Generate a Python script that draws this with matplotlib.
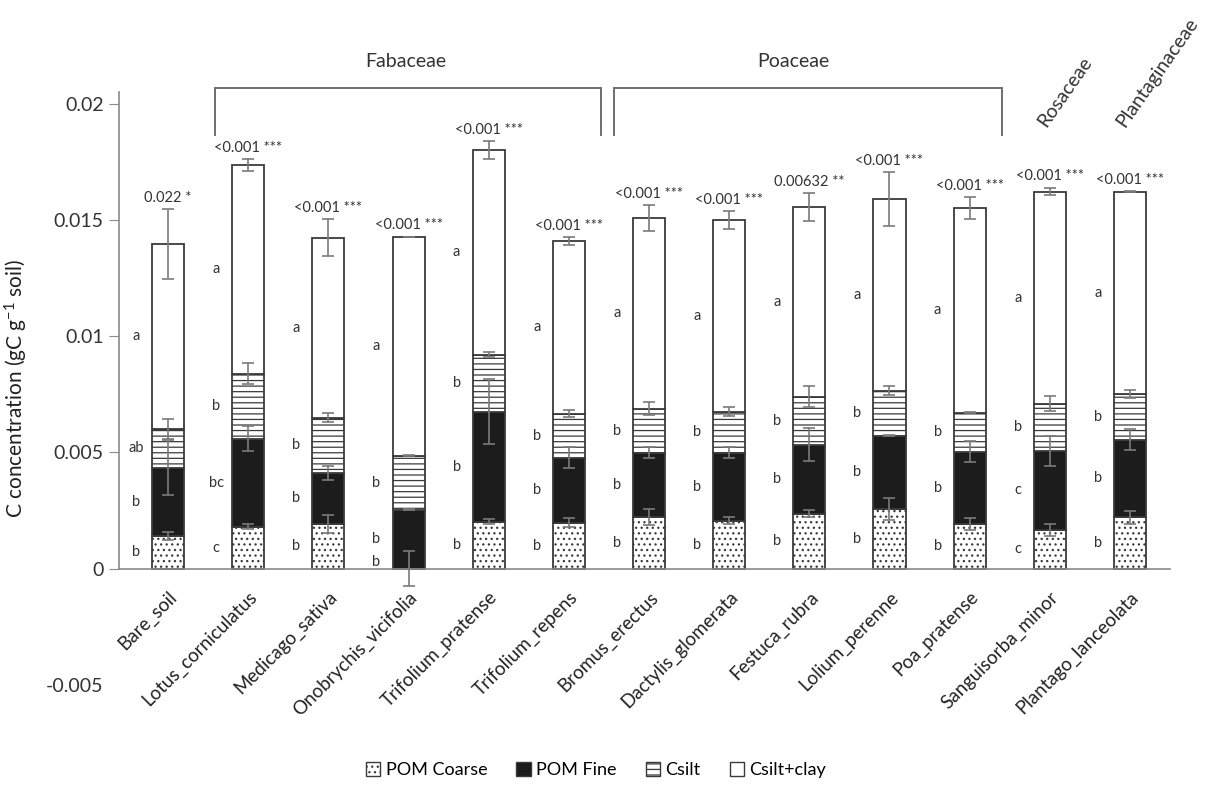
import numpy as np
import matplotlib
matplotlib.use("Agg")
import matplotlib.pyplot as plt
from matplotlib.patches import Patch

plt.rcParams['font.family'] = ['Lato', 'DejaVu Sans']
plt.rcParams['mathtext.default'] = 'regular'
plt.rcParams['hatch.linewidth'] = 0.9

categories = ["Bare_soil", "Lotus_corniculatus", "Medicago_sativa", "Onobrychis_vicifolia",
              "Trifolium_pratense", "Trifolium_repens", "Bromus_erectus", "Dactylis_glomerata",
              "Festuca_rubra", "Lolium_perenne", "Poa_pratense", "Sanguisorba_minor",
              "Plantago_lanceolata"]

fractions = ["POM Coarse", "POM Fine", "Csilt", "Csilt+clay"]

# carbon per fraction (gC g-1 soil), stacked from the bottom
pom_coarse = [0.00142, 0.00181, 0.00193, 0.00000, 0.00202, 0.00198, 0.00224,
              0.00206, 0.00236, 0.00258, 0.00192, 0.00166, 0.00221]
pom_fine = [0.00292, 0.00378, 0.00220, 0.00254, 0.00473, 0.00279, 0.00275,
            0.00293, 0.00297, 0.00314, 0.00312, 0.00341, 0.00334]
csilt = [0.00168, 0.00279, 0.00236, 0.00232, 0.00245, 0.00189, 0.00189,
         0.00176, 0.00207, 0.00193, 0.00167, 0.00203, 0.00196]
csilt_clay = [0.00795, 0.00899, 0.00774, 0.00941, 0.00881, 0.00744, 0.00821,
              0.00825, 0.00816, 0.00825, 0.00879, 0.00912, 0.00871]

# standard errors, one per fraction
err_coarse = [0.00017, 0.00010, 0.00040, 0.00075, 0.00010, 0.00020, 0.00034,
              0.00015, 0.00015, 0.00047, 0.00025, 0.00027, 0.00029]
err_fine = [0.00118, 0.00054, 0.00030, 0.00003, 0.00140, 0.00045, 0.00024,
            0.00024, 0.00070, 0.00002, 0.00045, 0.00065, 0.00046]
err_csilt = [0.00043, 0.00045, 0.00020, 0.00002, 0.00010, 0.00015, 0.00028,
             0.00020, 0.00045, 0.00020, 0.00003, 0.00033, 0.00016]
err_clay = [0.00150, 0.00026, 0.00080, 0.00001, 0.00037, 0.00017, 0.00056,
            0.00039, 0.00060, 0.00116, 0.00047, 0.00017, 0.00003]

# ANOVA p-values per plant
p_labels = ["0.022 *", "<0.001 ***", "<0.001 ***", "<0.001 ***", "<0.001 ***",
            "<0.001 ***", "<0.001 ***", "<0.001 ***", "0.00632 **", "<0.001 ***",
            "<0.001 ***", "<0.001 ***", "<0.001 ***"]

# post-hoc group letters (coarse, fine, silt, silt+clay)
letters_coarse = ["b", "c", "b", "b", "b", "b", "b", "b", "b", "b", "b", "c", "b"]
letters_fine = ["b", "bc", "b", "b", "b", "b", "b", "b", "b", "b", "b", "c", "b"]
letters_csilt = ["ab", "b", "b", "b", "b", "b", "b", "b", "b", "b", "b", "b", "b"]
letters_clay = ["a", "a", "a", "a", "a", "a", "a", "a", "a", "a", "a", "a", "a"]

families = ["Fabaceae", "Poaceae"]
family_spans = [(0.59, 5.4), (5.56, 10.4)]
family_label_x = [2.96, 7.8]
single_families = ["Rosaceae", "Plantaginaceae"]
single_family_x = [10.95, 11.93]

yticks = [-0.005, 0, 0.005, 0.01, 0.015, 0.02]
ytick_labels = ["-0.005", "0", "0.005", "0.01", "0.015", "0.02"]

fig = plt.figure(figsize=(12.24, 7.85), dpi=100)
ax = fig.add_axes([0.0972, 0.1274, 0.8587, 0.7554])

x = np.arange(len(categories))
width = 0.4
edge = "#3a3a3a"

series = [pom_coarse, pom_fine, csilt, csilt_clay]
errors = [err_coarse, err_fine, err_csilt, err_clay]
letters = [letters_coarse, letters_fine, letters_csilt, letters_clay]
faces = ["white", "#1c1c1c", "white", "white"]
hatches = ["...", None, "---", None]

bottom = np.zeros(len(categories))
tops = []
for vals, fc, h in zip(series, faces, hatches):
    vals = np.array(vals)
    ax.bar(x, vals, width, bottom=bottom, color=fc, edgecolor=edge,
           linewidth=1.3, hatch=h, zorder=2)
    tops.append(bottom + vals)
    bottom = bottom + vals

# error bars at the top of each fraction
prev = np.zeros(len(categories))
for top, err, lab in zip(tops, errors, letters):
    ax.errorbar(x, top, yerr=err, fmt="none", ecolor="#7a7a7a",
                elinewidth=1.2, capsize=4, capthick=1.2, zorder=3)
    mid = np.maximum((prev + top) / 2, 0.0003)
    for xi, yi, t in zip(x, mid, lab):
        ax.text(xi - 0.4, yi, t, ha="center", va="center", fontsize=10.5,
                color="#333333")
    prev = top

total = tops[-1]
for xi, t, e, lab in zip(x, total, err_clay, p_labels):
    ax.annotate(lab, (xi, t + e), xytext=(0, 3), textcoords="offset points",
                ha="center", va="bottom", fontsize=10.5, color="#333333")

# family brackets
br_top, br_bot = 0.02068, 0.01866
for name, (a, b), lx in zip(families, family_spans, family_label_x):
    ax.plot([a, a, b, b], [br_bot, br_top, br_top, br_bot], color="#6e6e6e",
            lw=1.4, clip_on=False, solid_joinstyle="miter")
    ax.text(lx, 0.0218, name, ha="center", va="center", fontsize=14,
            color="#333333", clip_on=False)
for name, sx in zip(single_families, single_family_x):
    ax.text(sx, 0.01895, name, rotation=55, rotation_mode="anchor",
            ha="left", va="baseline", fontsize=14, color="#333333")

ax.set_xlim(-0.6125, 12.5)
ax.set_ylim(-0.005, 0.0205)

ax.spines["top"].set_visible(False)
ax.spines["right"].set_visible(False)
ax.spines["bottom"].set_position(("data", 0))
ax.spines["bottom"].set_color("#8a8a8a")
ax.spines["left"].set_color("#8a8a8a")
ax.spines["left"].set_bounds(0, 0.0205)
ax.spines["bottom"].set_linewidth(1.2)
ax.spines["left"].set_linewidth(1.2)

ax.set_yticks(yticks)
ax.set_yticklabels(ytick_labels, fontsize=14, color="#333333")
ax.tick_params(axis="y", length=7, color="#8a8a8a", pad=4)
ax.yaxis.get_major_ticks()[0].tick1line.set_visible(False)

ax.set_xticks(x)
ax.set_xticklabels(categories, rotation=45, ha="right", rotation_mode="anchor",
                   fontsize=13.5, color="#222222")
ax.tick_params(axis="x", length=0, pad=14)

ax.set_ylabel("C concentration (gC g$^{-1}$ soil)", fontsize=15, color="#222222",
              labelpad=12)

handles = [Patch(facecolor=fc, edgecolor=edge, hatch=h, linewidth=1.0)
           for fc, h in zip(faces, hatches)]
fig.legend(handles, fractions, loc="center", bbox_to_anchor=(0.487, 0.019),
           ncol=4, frameon=False, fontsize=13, handlelength=0.8,
           handleheight=0.8, handletextpad=0.3, columnspacing=1.6)

fig.savefig("out.png", dpi=100)
